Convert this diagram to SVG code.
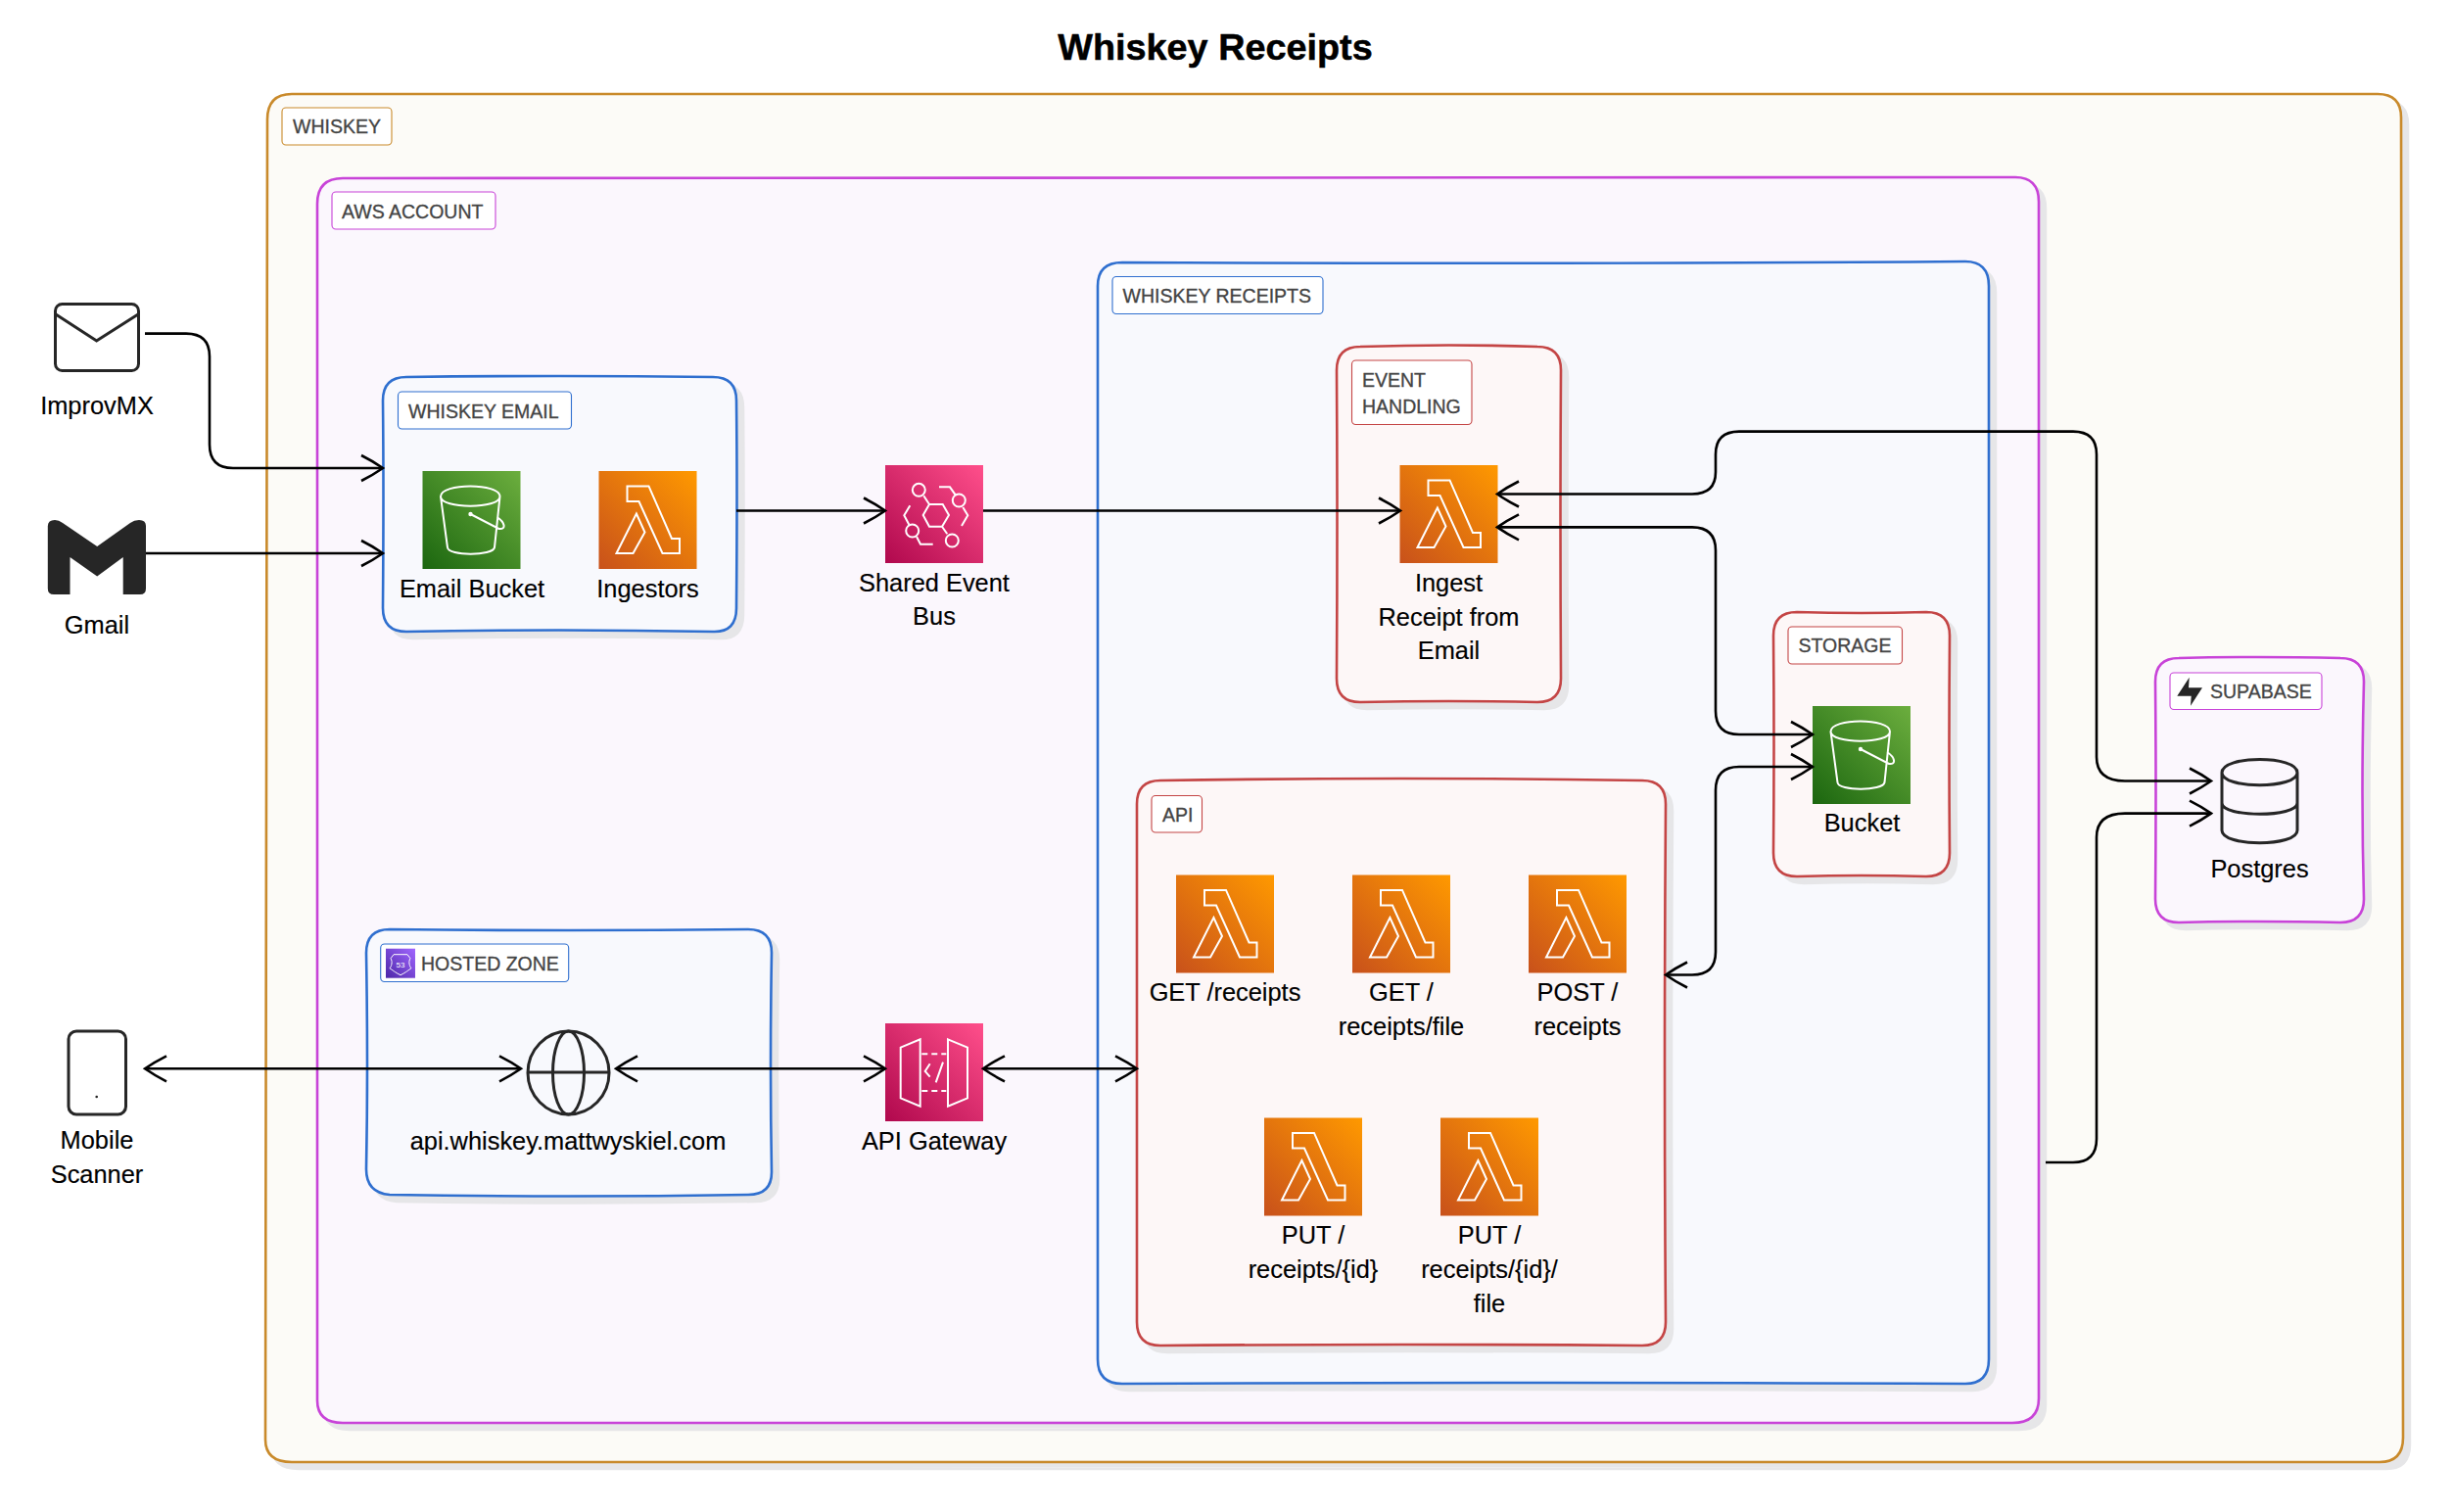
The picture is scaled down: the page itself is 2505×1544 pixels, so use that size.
<svg xmlns="http://www.w3.org/2000/svg" xmlns:xlink="http://www.w3.org/1999/xlink" width="2505" height="1544" viewBox="0 0 2505 1544">
<style>
text{font-family:"Liberation Sans",Arial,sans-serif}
.title{font-size:37.8px;font-weight:700;text-anchor:middle;fill:#000;stroke:#000;stroke-width:.5;stroke-linejoin:round}
.t{font-size:25.4px;text-anchor:middle;fill:#000;stroke:#000;stroke-width:.15}
.l{font-size:19.5px;fill:#444;stroke:#444;stroke-width:.3}
.sh{fill:#e6e6e8;stroke:#e6e6e8;stroke-width:2.5}
.box{stroke-width:2.6}
.or{fill:#fcfbf7;stroke:#c98a2b}
.mg{fill:#fbf7fd;stroke:#c843d8}
.bl{fill:#f8f9fd;stroke:#2f6fcf}
.rd{fill:#fdf7f7;stroke:#c44545}
.lab{fill:#fff;stroke-width:1.1}
.ic{fill:none;stroke:#fff;stroke-width:2}
.k{fill:none;stroke:#262626;stroke-width:3}
.c{fill:none;stroke:#000;stroke-width:2.6;marker-end:url(#h)}
.cc{marker-start:url(#h)}
</style>
<defs>
<marker id="h" markerUnits="userSpaceOnUse" markerWidth="30" markerHeight="34" refX="26" refY="17" orient="auto-start-reverse" overflow="visible"><path d="M4,4 Q16,10 26,17 Q16,24 4,30" fill="none" stroke="#000" stroke-width="2.6"/></marker>
<linearGradient id="go" x1="0" y1="1" x2="1" y2="0"><stop offset="0" stop-color="#c8511b"/><stop offset="1" stop-color="#ff9900"/></linearGradient>
<linearGradient id="gg" x1="0" y1="1" x2="1" y2="0"><stop offset="0" stop-color="#1b660f"/><stop offset="1" stop-color="#6cae3e"/></linearGradient>
<linearGradient id="gp" x1="0" y1="1" x2="1" y2="0"><stop offset="0" stop-color="#b0084d"/><stop offset="1" stop-color="#ff4f8b"/></linearGradient>
<linearGradient id="gv" x1="0" y1="1" x2="1" y2="0"><stop offset="0" stop-color="#4d27a8"/><stop offset="1" stop-color="#a166ff"/></linearGradient>
<g id="lambda"><rect width="100" height="100" fill="url(#go)"/><path class="ic" d="M29,15.4H51L74.5,69H82.5V84H65L41,31H29ZM38.4,43.5L47,62.5L35,84H18Z"/></g>
<g id="s3"><rect width="100" height="100" fill="url(#gg)"/><path class="ic" d="M18.5,26C18.5,12 79,12 79,26C79,39 18.5,39 18.5,26ZM18.5,26L25.5,78C26,87 72,87 73.5,78L79,26M49,44L78,59C86,60 84,52 76,47"/><circle cx="49" cy="44" r="2.2" fill="#fff"/></g>
<path id="b1" d="M298,96Q1300,99 2428,96Q2452,96 2452,120Q2451,800 2454,1468Q2454,1493 2430,1493Q1300,1490 298,1493Q271,1493 271,1470Q270,800 273,122Q273,96 298,96Z"/>
<path id="b2" d="M350,182Q1200,184 2058,181Q2082,181 2082,206Q2080,800 2082,1428Q2082,1453 2055,1453Q1200,1450 350,1453Q324,1453 324,1430Q325,800 324,208Q324,182 350,182Z"/>
<path id="b3" d="M1146,268Q1600,270 2007,267Q2031,267 2031,292Q2033,800 2031,1388Q2031,1413 2007,1413Q1600,1411 1146,1413Q1121,1413 1121,1388Q1120,800 1121,292Q1121,268 1146,268Z"/>
<path id="b4" d="M415,385Q570,383 728,385Q752,385 752,409Q753,500 752,621Q752,646 728,645Q570,642 415,645Q391,645 391,621Q392,500 391,409Q391,385 415,385Z"/>
<path id="b5" d="M398,949Q580,951 764,949Q788,949 788,973Q786,1090 788,1197Q788,1220 764,1220Q580,1223 398,1220Q374,1218 374,1194Q376,1090 374,973Q374,949 398,949Z"/>
<path id="b6" d="M1389,354Q1480,351 1570,354Q1594,354 1594,378Q1593,530 1594,693Q1594,717 1570,717Q1480,715 1389,717Q1365,717 1365,693Q1366,530 1365,378Q1365,354 1389,354Z"/>
<path id="b7" d="M1835,625Q1900,627 1967,625Q1991,625 1991,649Q1990,760 1991,871Q1991,895 1967,895Q1900,893 1835,895Q1811,895 1811,871Q1812,760 1811,649Q1811,625 1835,625Z"/>
<path id="b8" d="M1185,797Q1430,793 1677,797Q1701,797 1701,821Q1699,1090 1701,1350Q1701,1374 1677,1374Q1430,1372 1185,1374Q1161,1374 1161,1350Q1162,1090 1161,821Q1161,797 1185,797Z"/>
<path id="b9" d="M2225,672Q2300,670 2390,672Q2414,672 2414,696Q2411,810 2414,918Q2414,942 2390,942Q2300,940 2225,942Q2201,942 2201,918Q2202,810 2201,696Q2201,672 2225,672Z"/>
</defs>
<rect width="2505" height="1544" fill="#fff"/>
<text class="title" x="1241" y="60.5">Whiskey Receipts</text>
<g id="whiskey"><use href="#b1" class="sh" x="7" y="7"/><use href="#b1" class="box or"/><rect class="lab" x="288" y="110" width="112" height="38" rx="4" stroke="#c98a2b"/><text class="l" x="299" y="136">WHISKEY</text></g>
<g id="aws-account"><use href="#b2" class="sh" x="7" y="7"/><use href="#b2" class="box mg"/><rect class="lab" x="339" y="196" width="167" height="38" rx="4" stroke="#c843d8"/><text class="l" x="349" y="222.5">AWS ACCOUNT</text></g>
<g id="whiskey-receipts"><use href="#b3" class="sh" x="7" y="7"/><use href="#b3" class="box bl"/><rect class="lab" x="1136" y="282.5" width="215" height="38" rx="4" stroke="#2f6fcf"/><text class="l" x="1146.5" y="308.5">WHISKEY RECEIPTS</text></g>
<g id="whiskey-email"><use href="#b4" class="sh" x="7" y="7"/><use href="#b4" class="box bl"/><rect class="lab" x="406.5" y="400" width="177" height="38" rx="4" stroke="#2f6fcf"/><text class="l" x="417" y="426.5">WHISKEY EMAIL</text></g>
<g id="hosted-zone"><use href="#b5" class="sh" x="7" y="7"/><use href="#b5" class="box bl"/><rect class="lab" x="388.7" y="964" width="192" height="38.5" rx="4" stroke="#2f6fcf"/>
<g transform="translate(394,968.7)"><rect width="30" height="30" fill="url(#gv)"/><path d="M8,6H22L25,10C23,13 24,18 26,20C23,22 21,24 15,27C9,24 7,22 4,20C6,18 7,13 5,10Z" fill="none" stroke="#fff" stroke-width="1"/><text x="15" y="19" font-size="8" text-anchor="middle" fill="#fff">53</text></g>
<text class="l" x="430" y="990.5">HOSTED ZONE</text></g>
<g id="event-handling"><use href="#b6" class="sh" x="7" y="7"/><use href="#b6" class="box rd"/><rect class="lab" x="1380.5" y="368" width="122.5" height="65.5" rx="4" stroke="#c44545"/><text class="l" x="1391" y="394.5">EVENT</text><text class="l" x="1391" y="422">HANDLING</text></g>
<g id="storage"><use href="#b7" class="sh" x="7" y="7"/><use href="#b7" class="box rd"/><rect class="lab" x="1826" y="640" width="116.5" height="38" rx="4" stroke="#c44545"/><text class="l" x="1836.5" y="665.5">STORAGE</text></g>
<g id="api"><use href="#b8" class="sh" x="7" y="7"/><use href="#b8" class="box rd"/><rect class="lab" x="1176" y="812.5" width="51.5" height="37.5" rx="4" stroke="#c44545"/><text class="l" x="1187" y="839">API</text></g>
<g id="supabase"><use href="#b9" class="sh" x="7" y="7"/><use href="#b9" class="box mg"/><rect class="lab" x="2216" y="687" width="155" height="37.5" rx="4" stroke="#c843d8"/><path d="M2235.7,691.7L2235,702.3H2249L2237,720.7L2237.7,710.7H2223.3Z" fill="#262626"/><text class="l" x="2257" y="712.5">SUPABASE</text></g>
<g id="improvmx"><rect class="k" x="56.5" y="310.5" width="85" height="68" rx="7"/><path class="k" d="M57,321L98.6,348L141,321"/><text class="t" x="99" y="423">ImprovMX</text></g>
<g id="gmail"><path d="M48.8,537Q49,531 56,531Q60,531 64,534L99.2,558L133,534Q137,531 142,531Q149,531 149,537V601Q149,607 143,607H125.7V569L99.2,588.4L71.5,569V607H55Q48.8,607 48.8,601Z" fill="#262626"/><text class="t" x="99" y="647">Gmail</text></g>
<g id="email-bucket"><use href="#s3" x="431.5" y="481"/><text class="t" x="482" y="610">Email Bucket</text></g>
<g id="ingestors"><use href="#lambda" x="611.5" y="481"/><text class="t" x="661.5" y="610">Ingestors</text></g>
<g id="shared-event-bus"><rect x="904" y="475" width="100" height="100" fill="url(#gp)"/><g transform="translate(904,475)"><path class="ic" d="M45,40H58.7L65,51L58,62.7H45L38.7,51ZM39.3,31.3L45,40M58,62.7L63.3,70.3M55,22.3H66L71.7,30.3M79.3,43L84.3,51.3L78,62M25.3,41.3L19.3,51.3L24.3,60.7M32,73L36,80.7H48.7"/><circle class="ic" cx="34.3" cy="25.3" r="6.5"/><circle class="ic" cx="75.3" cy="36" r="6.5"/><circle class="ic" cx="27.7" cy="67" r="6.5"/><circle class="ic" cx="68.3" cy="77" r="6.5"/></g><text class="t" x="954" y="603.5">Shared Event</text><text class="t" x="954" y="638">Bus</text></g>
<g id="ingest-receipt"><use href="#lambda" x="1429.5" y="475"/><text class="t" x="1479.5" y="604">Ingest</text><text class="t" x="1479.5" y="638.5">Receipt from</text><text class="t" x="1479.5" y="673">Email</text></g>
<g id="bucket"><use href="#s3" x="1851" y="721"/><text class="t" x="1901.5" y="848.5">Bucket</text></g>
<g id="get-receipts"><use href="#lambda" x="1201" y="893.5"/><text class="t" x="1251" y="1021.5">GET /receipts</text></g>
<g id="get-receipts-file"><use href="#lambda" x="1381" y="893.5"/><text class="t" x="1431" y="1021.5">GET /</text><text class="t" x="1431" y="1056.5">receipts/file</text></g>
<g id="post-receipts"><use href="#lambda" x="1561" y="893.5"/><text class="t" x="1611" y="1021.5">POST /</text><text class="t" x="1611" y="1056.5">receipts</text></g>
<g id="put-receipts-id"><use href="#lambda" x="1291" y="1141.5"/><text class="t" x="1341" y="1269.5">PUT /</text><text class="t" x="1341" y="1304.5">receipts/{id}</text></g>
<g id="put-receipts-id-file"><use href="#lambda" x="1471" y="1141.5"/><text class="t" x="1521" y="1269.5">PUT /</text><text class="t" x="1521" y="1304.5">receipts/{id}/</text><text class="t" x="1521" y="1339.5">file</text></g>
<g id="mobile-scanner"><rect class="k" x="70" y="1053" width="58.5" height="85" rx="8"/><circle cx="98.7" cy="1120" r="1.3" fill="#262626"/><text class="t" x="99" y="1173">Mobile</text><text class="t" x="99" y="1208">Scanner</text></g>
<g id="api-domain"><ellipse class="k" cx="580.5" cy="1095.5" rx="41.5" ry="42.5"/><ellipse class="k" cx="580.5" cy="1095.5" rx="16" ry="42.5"/><path class="k" d="M539,1095H622"/><text class="t" x="580" y="1173.5">api.whiskey.mattwyskiel.com</text></g>
<g id="api-gateway"><rect x="904" y="1045" width="100" height="100" fill="url(#gp)"/><g transform="translate(904,1045)"><path class="ic" d="M15.7,24.7L35.7,16.3V84.7L15.7,76.3ZM64,16.3L84,24.7V76.3L64,84.7ZM45.7,41.3L40.7,49L45.7,54.7M59,39.7L51.7,60.3"/><path class="ic" stroke-dasharray="6 4" d="M37.3,31.3H62.3M37.3,69H62.3"/></g><text class="t" x="954" y="1173.5">API Gateway</text></g>
<g id="postgres"><path class="k" d="M2269,789C2269,771 2346,771 2346,789C2346,806 2269,806 2269,789ZM2269,789V848C2269,865 2346,865 2346,848V789M2269,820C2269,835 2346,835 2346,820"/><text class="t" x="2307.5" y="896">Postgres</text></g>
<g id="connectors">
<path class="c" d="M148,340.6H190Q214,340.6 214,364V454Q214,478 238,478H391"/>
<path class="c" d="M149,565H391"/>
<path class="c" d="M752,521.5H904"/>
<path class="c" d="M1004,521.5H1430"/>
<path class="c cc" d="M1529,504.5H1728Q1752,504.5 1752,482V464Q1752,440.6 1776,440.6H2117Q2141,440.6 2141,464V773Q2141,797.5 2170,797.5H2258"/>
<path class="c cc" d="M1529,538.4H1728Q1752,538.4 1752,562V726Q1752,750 1776,750H1851"/>
<path class="c cc" d="M1701,995.5H1728Q1752,995.5 1752,972V807Q1752,783 1776,783H1851"/>
<path class="c" d="M2089,1187H2117Q2141,1187 2141,1163V855Q2141,830.6 2170,830.6H2258"/>
<path class="c cc" d="M148,1091.3H532"/>
<path class="c cc" d="M629,1091.3H904"/>
<path class="c cc" d="M1004,1091.3H1161"/>
</g>
</svg>
